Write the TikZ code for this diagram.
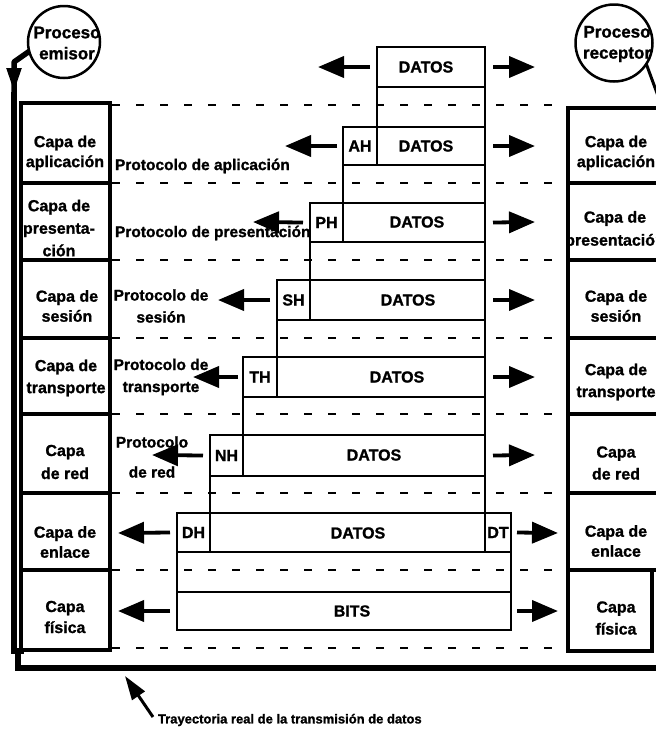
\documentclass[tikz,border=0pt]{standalone}
\usepackage{fontspec}
\setmainfont[BoldFeatures={FakeBold=1.2}]{Liberation Sans}
\usetikzlibrary{arrows.meta}
\begin{document}
\begin{tikzpicture}[x=1pt,y=-1pt,
  every node/.style={font=\bfseries\fontsize{16}{20}\selectfont, inner sep=0pt, outer sep=0pt},
  cell/.style={draw, line width=3.8pt, anchor=north west},
  pdu/.style={draw, line width=2.7pt, anchor=north west},
  guide/.style={line width=1.4pt},
  dashsep/.style={line width=1.4pt, dash pattern=on 8pt off 16pt},
  bigarrow/.style={line width=3.8pt, -{Triangle[length=26pt,width=21pt]}},
  proto/.style={font=\bfseries\fontsize{15.5}{22}\selectfont, align=center},
  lbl/.style={align=center},
  trayline/.style={line width=5.5pt},
  proc/.style={circle, draw, line width=2.5pt},
  proctext/.style={align=center, font=\bfseries\fontsize{17}{21}\selectfont}
]
\useasboundingbox (0,0) rectangle (656,729);
\clip (0,0) rectangle (656,729);

% ---------- dashed separators ----------
\foreach \yy in {105,183,260,338,414,493,570,648}
  \draw[dashsep] (112,\yy) -- (566,\yy);

% ---------- left stack ----------
\node[cell, minimum width=89pt, minimum height=80pt] (L1) at (21,103) {};
\node[cell, minimum width=89pt, minimum height=77pt] (L2) at (21,183) {};
\node[cell, minimum width=89pt, minimum height=78pt] (L3) at (21,260) {};
\node[cell, minimum width=89pt, minimum height=76pt] (L4) at (21,338) {};
\node[cell, minimum width=89pt, minimum height=79pt] (L5) at (21,414) {};
\node[cell, minimum width=89pt, minimum height=77pt] (L6) at (21,493) {};
\node[cell, minimum width=89pt, minimum height=80pt] (L7) at (21,570) {};

\node[lbl] (lt1) at (65,153) {Capa de\\aplicación};
\node[lbl, font=\bfseries\fontsize{16}{22.5}\selectfont] (lt2) at (59,228) {Capa de\\presenta-\\ción};
\node[lbl] (lt3) at (67,306) {Capa de\\sesión};
\node[lbl, font=\bfseries\fontsize{16}{22}\selectfont] (lt4) at (66,378) {Capa de\\transporte};
\node[lbl, font=\bfseries\fontsize{16}{23}\selectfont] (lt5) at (65,462) {Capa\\de red};
\node[lbl] (lt6) at (65,542) {Capa de\\enlace};
\node[lbl, font=\bfseries\fontsize{16}{21}\selectfont] (lt7) at (65,617) {Capa\\física};

% ---------- right stack ----------
\node[cell, minimum width=102pt, minimum height=75pt] (R1) at (568,108) {};
\node[cell, minimum width=102pt, minimum height=77pt] (R2) at (568,183) {};
\node[cell, minimum width=102pt, minimum height=78pt] (R3) at (568,260) {};
\node[cell, minimum width=102pt, minimum height=76pt] (R4) at (568,338) {};
\node[cell, minimum width=102pt, minimum height=79pt] (R5) at (568,414) {};
\node[cell, minimum width=102pt, minimum height=77pt] (R6) at (568,493) {};
\node[cell, minimum width=84pt, minimum height=81pt] (R7) at (568,570) {};

\node[lbl] (rt1) at (616,153) {Capa de\\aplicación};
\node[lbl, font=\bfseries\fontsize{16}{23}\selectfont] (rt2) at (615,230) {Capa de\\presentación};
\node[lbl] (rt3) at (616,306) {Capa de\\sesión};
\node[lbl, font=\bfseries\fontsize{16}{22}\selectfont] (rt4) at (616,382) {Capa de\\transporte};
\node[lbl, font=\bfseries\fontsize{16}{22}\selectfont] (rt5) at (616,463) {Capa\\de red};
\node[lbl] (rt6) at (616,541) {Capa de\\enlace};
\node[lbl, font=\bfseries\fontsize{16}{22}\selectfont] (rt7) at (616,618) {Capa\\física};

% ---------- processes ----------
\node[proc, minimum size=72pt] (emisor) at (64,42) {};
\node[proctext] (emisorT) at (67,43) {Proceso\\emisor};
\node[proc, minimum size=77pt] (receptor) at (614,43) {};
\node[proctext] (receptorT) at (617,44) {Proceso\\receptor};

% ---------- path of the real transmission ----------
\coordinate (e1) at (14,62);
\coordinate (e2) at (14,92);
\coordinate (e3) at (14,651);
\coordinate (e4) at (24,651);
\draw[trayline, line join=round] (emisor.195) -- (e1) -- (e2);
\draw[line width=5pt, -{Triangle[length=24pt,width=14pt]}] (e1) -- (e2);
\draw[line width=6pt] (e2) -- (e3) -- (e4);

\coordinate (b0) at (18,650);
\coordinate (b1) at (18,668);
\coordinate (b2) at (662,668);
\draw[trayline] (b0) -- (b1) -- (b2);

\coordinate (rr) at (661,104);
\draw[line width=3pt] (receptor.-33) -- (rr);

% ---------- PDUs ----------
\node[pdu, minimum width=108pt, minimum height=40pt] (d0) at (377,47) {};
\node[pdu, minimum width=34pt, minimum height=38pt] (h1) at (343,127) {AH};
\node[pdu, minimum width=108pt, minimum height=38pt] (d1) at (377,127) {};
\node[pdu, minimum width=33pt, minimum height=39pt] (h2) at (310,203) {PH};
\node[pdu, minimum width=142pt, minimum height=39pt] (d2) at (343,203) {};
\node[pdu, minimum width=33pt, minimum height=40pt] (h3) at (277,280) {SH};
\node[pdu, minimum width=175pt, minimum height=40pt] (d3) at (310,280) {};
\node[pdu, minimum width=34pt, minimum height=40pt] (h4) at (243,357) {TH};
\node[pdu, minimum width=208pt, minimum height=40pt] (d4) at (277,357) {};
\node[pdu, minimum width=33pt, minimum height=41pt] (h5) at (210,435) {NH};
\node[pdu, minimum width=242pt, minimum height=41pt] (d5) at (243,435) {};
\node[pdu, minimum width=33pt, minimum height=39pt] (h6) at (177,513) {DH};
\node[pdu, minimum width=275pt, minimum height=39pt] (d6) at (210,513) {};
\node[pdu, minimum width=26pt, minimum height=39pt] (dt) at (485,513) {DT};
\node[pdu, minimum width=334pt, minimum height=38pt] (bits) at (177,592) {};

% payload texts
\node (t0) at (426,67) {DATOS};
\node (t1) at (426,146) {DATOS};
\node (t2) at (417,222) {DATOS};
\node (t3) at (408,300) {DATOS};
\node (t4) at (397,377) {DATOS};
\node (t5) at (374,455) {DATOS};
\node (t6) at (358,533) {DATOS};
\node (t7) at (352,611) {BITS};

% guides
\draw[guide] (d0.south west) -- (d1.north west);
\draw[guide] (d0.south east) -- (d1.north east);
\draw[guide] (h1.south west) -- (d2.north west);
\draw[guide] (d1.south east) -- (d2.north east);
\draw[guide] (h2.south west) -- (d3.north west);
\draw[guide] (d2.south east) -- (d3.north east);
\draw[guide] (h3.south west) -- (d4.north west);
\draw[guide] (d3.south east) -- (d4.north east);
\draw[guide] (h4.south west) -- (d5.north west);
\draw[guide] (d4.south east) -- (d5.north east);
\draw[guide] (h5.south west) -- (d6.north west);
\draw[guide] (d5.south east) -- (d6.north east);
\draw[guide] (h6.south west) -- (bits.north west);
\draw[guide] (dt.south east) -- (bits.north east);

% ---------- arrows ----------
\coordinate (l0) at (318,67);
\coordinate (l1) at (285,146);
\coordinate (l2) at (253,222);
\coordinate (l3) at (218,300);
\coordinate (l4) at (193,377);
\coordinate (l5) at (152,455);
\coordinate (l6) at (118,533);
\coordinate (l7) at (118,611);
\coordinate (r0) at (535,67);
\coordinate (r1) at (535,146);
\coordinate (r2) at (535,222);
\coordinate (r3) at (535,300);
\coordinate (r4) at (535,377);
\coordinate (r5) at (535,455);
\coordinate (r6) at (558,533);
\coordinate (r7) at (558,611);

\draw[bigarrow] ([xshift=-7pt]d0.west) -- (l0);
\draw[bigarrow] ([xshift=-6pt]h1.west) -- (l1);
\draw[bigarrow] ([xshift=-7pt]h2.west) -- (l2);
\draw[bigarrow] ([xshift=-7pt]h3.west) -- (l3);
\draw[bigarrow] ([xshift=-5pt]h4.west) -- (l4);
\draw[bigarrow] ([xshift=-7pt]h5.west) -- (l5);
\draw[bigarrow] ([xshift=-7pt]h6.west) -- (l6);
\draw[bigarrow] ([xshift=-7pt]bits.west) -- (l7);

\draw[bigarrow] ([xshift=8pt]d0.east) -- (r0);
\draw[bigarrow] ([xshift=8pt]d1.east) -- (r1);
\draw[bigarrow] ([xshift=8pt]d2.east) -- (r2);
\draw[bigarrow] ([xshift=8pt]d3.east) -- (r3);
\draw[bigarrow] ([xshift=8pt]d4.east) -- (r4);
\draw[bigarrow] ([xshift=8pt]d5.east) -- (r5);
\draw[bigarrow] ([xshift=6pt]dt.east) -- (r6);
\draw[bigarrow] ([xshift=6pt]bits.east) -- (r7);

% ---------- protocol labels ----------
\node[proto, anchor=west] (p1) at (115,166) {Protocolo de aplicación};
\node[proto, anchor=west] (p2) at (115,233) {Protocolo de presentación};
\node[proto] (p3) at (161,306) {Protocolo de\\sesión};
\node[proto] (p4) at (161,377) {Protocolo de\\transporte};
\node[proto, font=\bfseries\fontsize{15.5}{30}\selectfont] (p5) at (152,457) {Protocolo\\de red};

% ---------- bottom caption ----------
\node[anchor=west, font=\bfseries\fontsize{13}{15}\selectfont] (traj) at (158,720) {Trayectoria real de la transmisión de datos};
\coordinate (ta) at (125,676);
\draw[line width=3pt, -{Triangle[length=24pt,width=15pt]}] ([xshift=-5pt,yshift=3pt]traj.west) -- (ta);
\end{tikzpicture}
\end{document}
